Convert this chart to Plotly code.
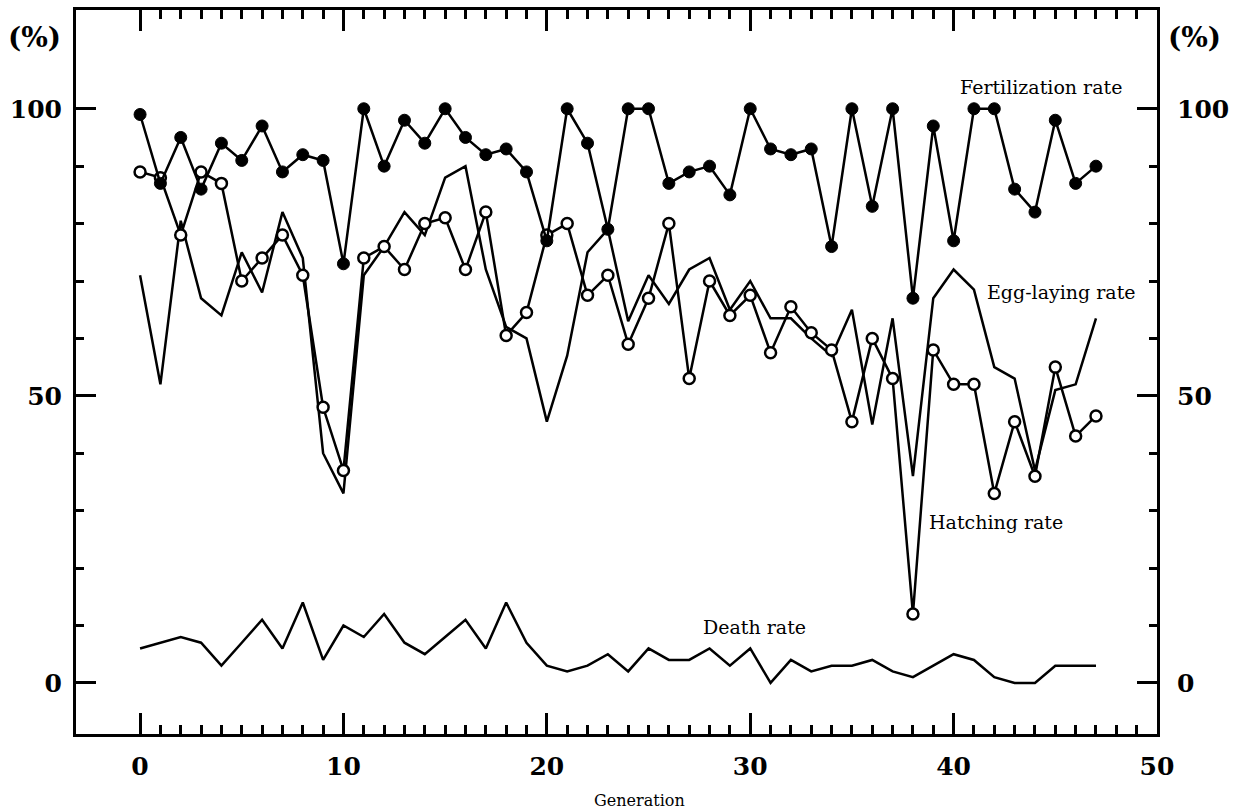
import plotly.graph_objects as go

generations = list(range(48))

fertilization = [99, 87, 95, 86, 94, 91, 97, 89, 92, 91,
                 73, 100, 90, 98, 94, 100, 95, 92, 93, 89,
                 77, 100, 94, 79, 100, 100, 87, 89, 90, 85,
                 100, 93, 92, 93, 76, 100, 83, 100, 67, 97,
                 77, 100, 100, 86, 82, 98, 87, 90]

hatching = [89, 88, 78, 89, 87, 70, 74, 78, 71, 48,
            37, 74, 76, 72, 80, 81, 72, 82, 60.5, 64.5,
            78, 80, 67.5, 71, 59, 67, 80, 53, 70, 64,
            67.5, 57.5, 65.5, 61, 58, 45.5, 60, 53, 12, 58,
            52, 52, 33, 45.5, 36, 55, 43, 46.5]

egg_laying = [71, 52, 80.5, 67, 64, 75, 68, 82, 74, 40,
              33, 71, 76, 82, 78, 88, 90, 72, 62, 60,
              45.5, 57, 75, 79, 63, 71, 66, 72, 74, 65,
              70, 63.5, 63.5, 60, 57, 65, 45, 63.5, 36, 67,
              72, 68.5, 55, 53, 37, 51, 52, 63.5]

death = [6, 7, 8, 7, 3, 7, 11, 6, 14, 4,
         10, 8, 12, 7, 5, 8, 11, 6, 14, 7,
         3, 2, 3, 5, 2, 6, 4, 4, 6, 3,
         6, 0, 4, 2, 3, 3, 4, 2, 1, 3,
         5, 4, 1, 0, 0, 3, 3, 3]

x_major = [0, 10, 20, 30, 40, 50]
x_minor = [g for g in range(0, 50) if g % 10 != 0]
y_major = [0, 50, 100]
y_major_text = ["0", "50", "100"]
y_minor = [10, 20, 30, 40, 60, 70, 80, 90]

series_labels = [
    ("Fertilization rate", 44.3, 103.8),
    ("Egg-laying rate", 45.3, 68.1),
    ("Hatching rate", 42.1, 28.0),
    ("Death rate", 30.2, 9.8),
]

X_RANGE = [-3.15, 50.0]
Y_RANGE = [-8.9, 117.2]

SERIF = "DejaVu Serif"
LW = 2.5

fig = go.Figure()

fig.add_trace(go.Scatter(x=generations, y=egg_laying, mode="lines",
                         line=dict(color="black", width=LW), hoverinfo="skip"))
fig.add_trace(go.Scatter(x=generations, y=death, mode="lines",
                         line=dict(color="black", width=LW), hoverinfo="skip"))
fig.add_trace(go.Scatter(x=generations, y=hatching, mode="lines+markers",
                         line=dict(color="black", width=LW),
                         marker=dict(symbol="circle", size=11, color="white",
                                     line=dict(color="black", width=2.5)),
                         hoverinfo="skip"))
fig.add_trace(go.Scatter(x=generations, y=fertilization, mode="lines+markers",
                         line=dict(color="black", width=LW),
                         marker=dict(symbol="circle", size=12, color="black",
                                     line=dict(color="black", width=1)),
                         hoverinfo="skip"))
# empty trace so the mirrored (top/right) axes are drawn
fig.add_trace(go.Scatter(x=[None], y=[None], xaxis="x2", yaxis="y2",
                         showlegend=False, hoverinfo="skip"))

tick_font = dict(family=SERIF, size=25, color="black", weight="bold")

common_x = dict(range=X_RANGE, showgrid=False, zeroline=False,
                showline=True, linewidth=3, linecolor="black",
                ticks="inside", ticklen=21, tickwidth=2.5, tickcolor="black",
                tickmode="array", tickvals=x_major,
                minor=dict(ticks="inside", tickmode="array", tickvals=x_minor,
                           ticklen=9, tickwidth=2.5, tickcolor="black",
                           showgrid=False))
common_y = dict(range=Y_RANGE, showgrid=False, zeroline=False,
                showline=True, linewidth=3, linecolor="black",
                ticks="inside", ticklen=20, tickwidth=2.5, tickcolor="black",
                tickmode="array", tickvals=y_major, ticktext=y_major_text,
                minor=dict(ticks="inside", tickmode="array", tickvals=y_minor,
                           ticklen=8, tickwidth=2.5, tickcolor="black",
                           showgrid=False))

fig.update_layout(
    width=1246, height=812,
    margin=dict(l=76, r=89, t=10, b=78, pad=0),
    plot_bgcolor="white", paper_bgcolor="white",
    showlegend=False,
    xaxis=dict(**common_x, side="bottom", tickfont=tick_font,
               ticktext=[str(v) for v in x_major], ticklabelstandoff=8),
    xaxis2=dict(**common_x, side="top", overlaying="x", anchor="y",
                showticklabels=False),
    yaxis=dict(**common_y, side="left", tickfont=tick_font,
               ticklabelstandoff=6),
    yaxis2=dict(**common_y, side="right", overlaying="y", anchor="x",
                tickfont=tick_font, ticklabelstandoff=12),
)

annotations = []
for text, gx, gy in series_labels:
    annotations.append(dict(x=gx, y=gy, xref="x", yref="y", text=text,
                            showarrow=False,
                            font=dict(family=SERIF, size=19, color="black"),
                            xanchor="center", yanchor="middle"))
annotations.append(dict(x=0.5217, y=-0.0912, xref="paper", yref="paper",
                        text="Generation", showarrow=False,
                        font=dict(family=SERIF, size=16, color="black"),
                        xanchor="center", yanchor="middle"))
for px in (-0.038, 1.035):
    annotations.append(dict(x=px, y=0.9627, xref="paper", yref="paper",
                            text="(%)", showarrow=False,
                            font=dict(family=SERIF, size=28, color="black",
                                      weight="bold"),
                            xanchor="center", yanchor="middle"))
fig.update_layout(annotations=annotations)

fig.write_html("out.html", config={"displayModeBar": False},
               post_script="document.body.style.margin='0';document.body.style.overflow='hidden';")
